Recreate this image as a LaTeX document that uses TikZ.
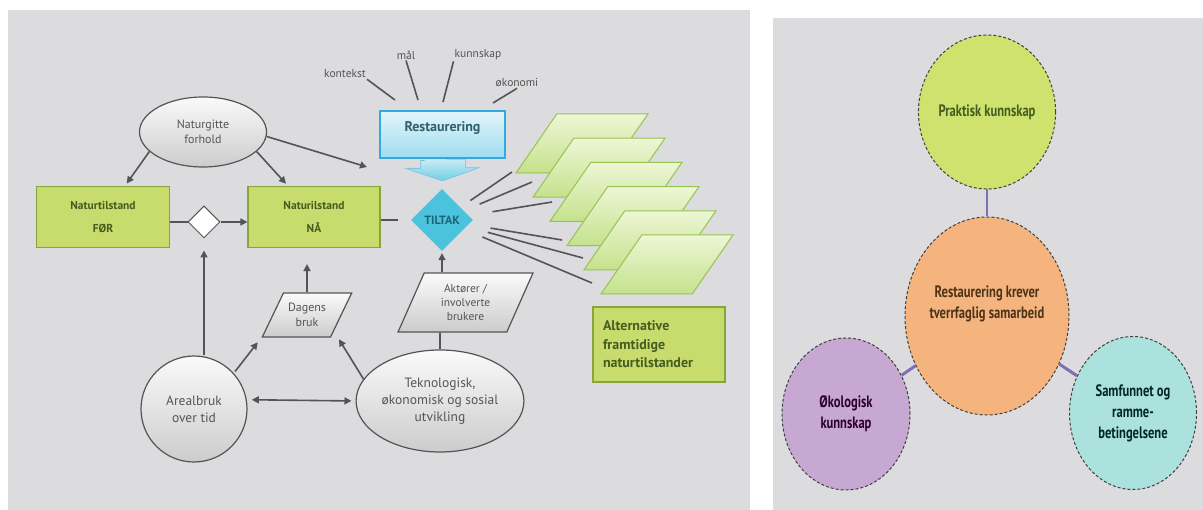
\documentclass[tikz,border=0pt]{standalone}
\usepackage{fontspec}
\setmainfont{PT Sans}
\newfontfamily\narrowfont[FakeStretch=0.76]{PT Sans}
\definecolor{panel}{RGB}{220,219,222}
\definecolor{linegray}{RGB}{80,86,86}
\definecolor{graytext}{RGB}{85,85,85}
\definecolor{boxgreen}{RGB}{200,220,110}
\definecolor{boxedge}{RGB}{135,165,60}
\definecolor{greentext}{RGB}{70,92,32}
\definecolor{altlight}{RGB}{238,246,214}
\definecolor{altdark}{RGB}{196,226,140}
\definecolor{altedge}{RGB}{150,196,80}
\definecolor{cyanfill}{RGB}{75,195,220}
\definecolor{cyantext}{RGB}{30,100,120}
\definecolor{restlight}{RGB}{226,245,250}
\definecolor{restdark}{RGB}{160,220,240}
\definecolor{restedge}{RGB}{50,170,225}
\definecolor{praktgreen}{RGB}{207,226,110}
\definecolor{kreverorange}{RGB}{245,180,125}
\definecolor{okolpurple}{RGB}{198,168,210}
\definecolor{samfteal}{RGB}{172,226,222}
\definecolor{linkpurple}{RGB}{130,110,180}
\usetikzlibrary{shapes.geometric,arrows.meta,calc}

\begin{document}
\begin{tikzpicture}[x=1pt,y=-1pt,
  every node/.style={font=\fontsize{12}{15}\selectfont, text=graytext},
  flow/.style={draw=linegray, line width=1.6pt},
  arr/.style={flow, -{Triangle[length=7pt,width=7pt]}},
  greyshape/.style={draw=linegray, line width=1.2pt, top color=gray!4, bottom color=gray!40, align=center, inner sep=1pt},
  state/.style={rectangle, draw=boxedge, line width=1.2pt, fill=boxgreen, text=greentext,
    font=\bfseries\fontsize{11.5}{14}\selectfont, align=center, minimum width=133pt, minimum height=61pt},
  future/.style={trapezium, trapezium left angle=51, trapezium right angle=129, trapezium stretches=true,
    minimum width=132pt, minimum height=59pt, inner sep=2pt, draw=altedge, line width=1pt,
    top color=altlight, bottom color=altdark},
  word/.style={font=\fontsize{11.5}{13}\selectfont, inner sep=1pt},
  bubble/.style={ellipse, draw=black!75, densely dashed, line width=1pt, align=center, inner sep=0pt,
    font=\narrowfont\bfseries\fontsize{16.5}{21}\selectfont},
  link/.style={draw=linkpurple, line width=3pt}]
  \useasboundingbox (0,0) rectangle (1203,510);
  %% 1. Panels
  \fill[panel] (8,10) rectangle (750,510);
  \fill[panel] (773,18) rectangle (1203,510);

  %% 2. Nodes, left panel
  \node[greyshape, ellipse, minimum width=127pt, minimum height=70pt] (naturgitte) at (203,132) {Naturgitte\\forhold};
  \node[state] (foer) at (103,217) {Naturtilstand\\[9pt]FØR};
  \node[diamond, draw=linegray, line width=1pt, fill=white, minimum width=32pt, minimum height=32pt, inner sep=0pt] (valg) at (204,222) {};
  \node[state, minimum width=132pt] (naa) at (314,217) {Naturilstand\\[9pt]NÅ};
  \node[diamond, fill=cyanfill, minimum width=62pt, minimum height=62pt, inner sep=0pt, text=cyantext,
    font=\bfseries\fontsize{12}{13}\selectfont] (tiltak) at (442,220) {TILTAK};
  \node[rectangle, draw=restedge, line width=1.6pt, top color=restlight, bottom color=restdark,
    minimum width=125pt, minimum height=47pt, text depth=16pt, text=cyantext!70!graytext,
    font=\bfseries\fontsize{14}{16}\selectfont] (rest) at (442.5,134.5) {Restaurering};
  \node[word] (kontekst) at (345,74) {kontekst};
  \node[word] (maal) at (406,55) {mål};
  \node[word] (kunnskap) at (478,55) {kunnskap};
  \node[word] (okonomi) at (517,83) {økonomi};
  \node[greyshape, trapezium, trapezium left angle=55, trapezium right angle=125, trapezium stretches=true,
    minimum width=90pt, minimum height=44pt] (dagens) at (307,315) {Dagens\\bruk};
  \node[greyshape, trapezium, trapezium left angle=67, trapezium right angle=113, trapezium stretches=true,
    minimum width=135pt, minimum height=59pt, font=\fontsize{11.5}{14}\selectfont] (aktorer) at (465.5,302.5)
    {Aktører /\\involverte\\brukere};
  \node[greyshape, circle, minimum size=106pt, font=\fontsize{13.5}{17}\selectfont] (areal) at (194,409) {Arealbruk\\over tid};
  \node[greyshape, ellipse, minimum width=166pt, minimum height=102pt, font=\fontsize{13.5}{17}\selectfont] (tekno) at (440,401)
    {Teknologisk,\\økonomisk og sosial\\utvikling};
  \node[rectangle, draw=boxedge, line width=1.2pt, fill=boxgreen, text=greentext, align=left,
    font=\bfseries\fontsize{14}{18.5}\selectfont, minimum width=132pt, minimum height=75pt,
    text width=112pt] (alternativ) at (659,344.5) {Alternative\\framtidige\\naturtilstander};

  %% 3. Restaurering arrow
  \filldraw[draw=restedge!60, line width=0.8pt, top color=restdark!60!white, bottom color=cyanfill!80!white]
    ($(rest.south)+(-22,1.5)$) -- ++(0,8) -- ++(-15,0) -- ($(rest.south)+(0,22)$)
    -- ++(36,-13) -- ++(-13,0) -- ++(0,-8);

  %% 4. Connectors, left panel
  \coordinate (k1) at (395,100);
  \coordinate (k2) at (418,100);
  \coordinate (k3) at (443,102);
  \coordinate (k4) at (493,103);
  \coordinate (toRest) at (367,167);
  \draw[flow] (kontekst.south east) -- (k1);
  \draw[flow] (maal.south) -- (k2);
  \draw[flow] (kunnskap.south west) -- (k3);
  \draw[flow] (okonomi.south) -- (k4);
  \draw[arr, shorten >=3pt] (naturgitte.200) -- ([xshift=22pt]foer.north);
  \draw[arr, shorten >=3pt] (naturgitte.340) -- ([xshift=-26pt]naa.north);
  \draw[arr] (naturgitte.356) -- (toRest);
  \draw[flow] (foer.east |- valg.west) -- (valg.west);
  \draw[arr] (valg.east) -- (naa.west |- valg.east);
  \draw[flow, shorten >=13pt] (naa.east |- tiltak.west) -- (tiltak.west);
  \draw[arr, shorten >=12pt] (areal.north -| valg.south) -- (valg.south);
  \draw[arr, shorten <=2pt, shorten >=6pt] (areal.42) -- (dagens.bottom left corner);
  \draw[arr, shorten >=2pt] (tekno.164) -- ([xshift=7pt]dagens.bottom right corner);
  \draw[arr, shorten >=16pt] (dagens.north) -- (dagens.north |- naa.south);
  \draw[{Triangle[length=7pt,width=7pt]}-{Triangle[length=7pt,width=7pt]}, flow, shorten <=5pt, shorten >=4pt]
    (areal.10) -- (tekno.west);
  \draw[arr, shorten >=2pt] (tiltak.south |- aktorer.north) -- (tiltak.south);
  \draw[flow] (tekno.north) -- (tekno.north |- aktorer.south);

  %% 5. Rays and future states
  \foreach \i/\x/\y/\s in {1/512/172/12, 2/532/182/17, 3/552/202/24,
                           4/562/240/22, 5/583/258/22, 6/592/283/20} {
    \coordinate (ray\i) at (\x,\y);
    \draw[flow, shorten <=\s pt] (tiltak) -- (ray\i);
  }
  \foreach \i in {1,...,6} {
    \node[future] (alt\i) at ({582+17*(\i-1)},{143.5+24.2*(\i-1)}) {};
  }

  %% 6. Right panel
  \node[bubble, fill=praktgreen, text=greentext, minimum width=125pt, minimum height=154pt] (prakt) at (987,112) {Praktisk kunnskap};
  \node[bubble, fill=kreverorange, text=black!60!brown, minimum width=164pt, minimum height=198pt] (krever) at (987,316)
    {Restaurering krever\\tverrfaglig samarbeid\\[6pt]};
  \node[bubble, fill=okolpurple, text=black!65!violet, minimum width=128pt, minimum height=152pt] (okol) at (846,414)
    {Økologisk\\kunnskap};
  \node[bubble, fill=samfteal, text=black!70!teal, minimum width=127pt, minimum height=153pt] (samf) at (1133,413)
    {Samfunnet og\\ramme-\\betingelsene};
  \draw[link, line width=2pt] (prakt.south) -- (krever.north);
  \draw[link] (krever) -- (okol);
  \draw[link] (krever) -- (samf);
\end{tikzpicture}
\end{document}
